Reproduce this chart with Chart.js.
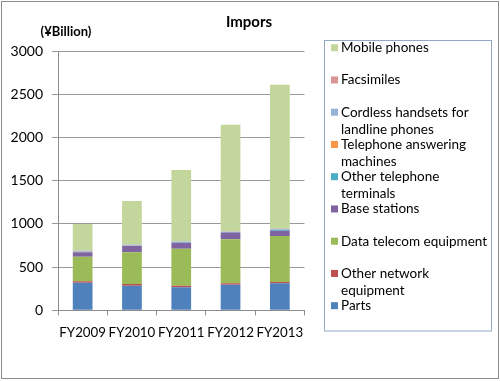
<!DOCTYPE html>
<html><head><meta charset="utf-8">
<script src="https://cdn.jsdelivr.net/npm/chart.js@4.4.1/dist/chart.umd.min.js"></script>
<style>html,body{margin:0;padding:0;background:#fff}#wrap{width:500px;height:381px;position:relative}</style>
</head><body><div id="wrap"><canvas id="c" width="500" height="381"></canvas></div>
<script>
const categories = ['FY2009', 'FY2010', 'FY2011', 'FY2012', 'FY2013'];
const parts = [318, 285, 266, 296, 312];
const otherNetwork = [17, 18, 19, 16, 15];
const dataTelecom = [285, 368, 428, 509, 533];
const baseStations = [53, 72, 68, 78, 61];
const otherTelTerminals = [5, 5, 5, 6, 10];
const answeringMachines = [2, 2, 2, 2, 2];
const cordless = [8, 10, 8, 3, 7];
const facsimiles = [5, 5, 4, 2, 3];
const mobile = [305, 500, 823, 1236, 1667];
const yTicks = [0, 500, 1000, 1500, 2000, 2500, 3000];
const seriesNames = ['Parts', 'Other network equipment', 'Data telecom equipment', 'Base stations',
  'Other telephone terminals', 'Telephone answering machines', 'Cordless handsets for landline phones',
  'Facsimiles', 'Mobile phones'];
const seriesValues = [parts, otherNetwork, dataTelecom, baseStations, otherTelTerminals,
  answeringMachines, cordless, facsimiles, mobile];
const seriesColors = ['#4F81BD', '#C0504D', '#9BBB59', '#8064A2', '#4BACC6', '#F79646', '#95B3D7', '#D99694', '#C3D69B'];
const chartTitle = 'Impors';
const unitLabel = '(¥Billion)';

const FONT = 'Lato, "Open Sans", sans-serif';

const decor = {
  id: 'decor',
  beforeDraw(chart) {
    const ctx = chart.ctx;
    ctx.save();
    ctx.fillStyle = '#fff';
    ctx.fillRect(0, 0, chart.width, chart.height);
    ctx.restore();
  },
  afterDraw(chart) {
    const ctx = chart.ctx;
    ctx.save();
    ctx.strokeStyle = '#8c8c8c';
    ctx.lineWidth = 1;
    ctx.strokeRect(1.5, 1.5, 497, 377);
    ctx.fillStyle = '#000';
    ctx.textAlign = 'center';
    ctx.textBaseline = 'middle';
    ctx.font = 'bold 15px ' + FONT;
    ctx.fillText(chartTitle, 249, 22);
    ctx.font = 'bold 13px ' + FONT;
    ctx.fillText(unitLabel, 66, 32);
    ctx.strokeStyle = '#93a8c4';
    ctx.strokeRect(324.5, 40.5, 167, 290.5);
    ctx.font = '13.5px ' + FONT;
    ctx.textAlign = 'left';
    const maxW = 150;
    for (let k = 0; k < seriesNames.length; k++) {
      const i = seriesNames.length - 1 - k;
      const y0 = 47.7 + k * 32.25;
      const words = seriesNames[i].split(' ');
      const lines = [];
      let cur = '';
      for (const w of words) {
        const t = cur ? cur + ' ' + w : w;
        if (ctx.measureText(t).width > maxW && cur) { lines.push(cur); cur = w; } else cur = t;
      }
      lines.push(cur);
      ctx.fillStyle = seriesColors[i];
      ctx.fillRect(331, y0 - 3.5, 7, 7);
      ctx.fillStyle = '#000';
      lines.forEach((ln, j) => ctx.fillText(ln, 341, y0 + j * 17));
    }
    ctx.restore();
  }
};

new Chart(document.getElementById('c'), {
  type: 'bar',
  data: {
    labels: categories,
    datasets: seriesNames.map((n, i) => ({
      label: n,
      data: seriesValues[i],
      backgroundColor: seriesColors[i],
      borderWidth: 0,
      barPercentage: 0.4,
      categoryPercentage: 1.0
    }))
  },
  options: {
    responsive: false,
    animation: false,
    devicePixelRatio: 1,
    layout: { padding: { left: 0, right: 195.5, top: 51, bottom: 0 } },
    plugins: { legend: { display: false }, title: { display: false }, tooltip: { enabled: false } },
    scales: {
      x: {
        stacked: true,
        grid: { display: true, drawOnChartArea: false, drawTicks: true, tickLength: 5, color: '#8c8c8c', offset: true },
        border: { color: '#8c8c8c' },
        ticks: { color: '#000', font: { family: FONT, size: 13.3 }, padding: 9, maxRotation: 0, autoSkip: false },
        afterFit(s) { s.height = 70.7; }
      },
      y: {
        stacked: true,
        min: 0, max: 3000,
        afterBuildTicks(s) { s.ticks = yTicks.map(v => ({ value: v })); },
        grid: { color: '#9a9a9a', tickLength: 6, drawTicks: true },
        border: { color: '#8c8c8c' },
        ticks: { color: '#000', font: { family: FONT, size: 14 }, padding: 9, callback: v => String(v) },
        afterFit(s) { s.width = 58; }
      }
    }
  },
  plugins: [decor]
});
</script></body></html>
